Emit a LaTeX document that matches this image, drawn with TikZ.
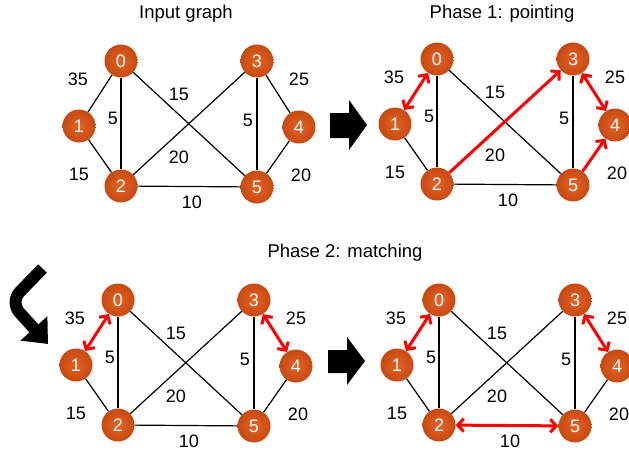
\documentclass[tikz,border=0pt]{standalone}
\usepackage{fontspec}
\setmainfont{Liberation Sans}
\usetikzlibrary{arrows.meta}
\definecolor{nodeIn}{RGB}{228,98,36}
\definecolor{nodeOut}{RGB}{198,74,18}
\definecolor{arrred}{RGB}{255,0,0}
\tikzset{
  vert/.style={circle, minimum size=33pt, inner sep=0pt, inner color=nodeIn, outer color=nodeOut, text=white, font=\fontsize{18}{18}\selectfont},
  wlab/.style={inner sep=0pt, font=\fontsize{18}{18}\selectfont},
  ttl/.style={inner sep=0pt, font=\fontsize{18.5}{19}\selectfont},
  edge/.style={draw=black, line width=1.2pt},
  redarr/.style={draw=arrred, line width=3pt, arrows={Straight Barb[length=6pt,width=13pt]-Straight Barb[length=6pt,width=13pt]}},
  redone/.style={draw=arrred, line width=3pt, arrows={-Straight Barb[length=6pt,width=13pt]}},
  bigarrow/.style={fill=black},
}
\newcommand\mygraph[3]{%
 \begin{scope}[shift={(#2,#3)}]
  \node[vert] (#1n0) at (0,0) {0};
  \node[vert] (#1n1) at (-42,65) {1};
  \node[vert] (#1n2) at (0,125) {2};
  \node[vert] (#1n3) at (136,0) {3};
  \node[vert] (#1n4) at (178,66) {4};
  \node[vert] (#1n5) at (136,126) {5};
  \node[wlab] (#1w01) at (-43,18) {35};
  \node[wlab] (#1w02) at (-8,57) {5};
  \node[wlab] (#1w05) at (58,33) {15};
  \node[wlab] (#1w23) at (58,96) {20};
  \node[wlab] (#1w35) at (127,59) {5};
  \node[wlab] (#1w34) at (178,18) {25};
  \node[wlab] (#1w12) at (-42,113) {15};
  \node[wlab] (#1w45) at (180,114) {20};
  \node[wlab] (#1w25) at (71,141) {10};
 \end{scope}}
\begin{document}
\begin{tikzpicture}[x=1pt,y=-1pt]
\useasboundingbox (0,0) rectangle (629,452);
% titles
\node[ttl] (t1) at (186,14) {Input graph};
\node[ttl] (t2) at (502,14) {Phase 1: pointing};
\node[ttl] (t3) at (345,253) {Phase 2: matching};
% panels
\mygraph{a}{121}{61}
\mygraph{b}{437}{59}
\mygraph{c}{118}{300}
\mygraph{d}{439}{300}
% panel 1 edges
\foreach \u/\v in {0/1,0/2,0/5,1/2,2/3,2/5,3/4,3/5,4/5}
  \draw[edge] (an\u) -- (an\v);
% panel 2 edges
\foreach \u/\v in {0/2,0/5,1/2,2/5,3/5}
  \draw[edge] (bn\u) -- (bn\v);
\draw[redarr] (bn0) -- (bn1);
\draw[redarr] (bn3) -- (bn4);
\draw[redone] (bn2) -- (bn3);
\draw[redone] (bn5) -- (bn4);
% panel 3 edges
\foreach \u/\v in {0/2,0/5,1/2,2/3,2/5,3/5,4/5}
  \draw[edge] (cn\u) -- (cn\v);
\draw[redarr] (cn0) -- (cn1);
\draw[redarr] (cn3) -- (cn4);
% panel 4 edges
\foreach \u/\v in {0/2,0/5,1/2,2/3,3/5,4/5}
  \draw[edge] (dn\u) -- (dn\v);
\draw[redarr] (dn0) -- (dn1);
\draw[redarr] (dn3) -- (dn4);
\draw[redarr] (dn2) -- (dn5);
% block arrows
\fill[bigarrow] (330,113) -- (349,113) -- (349,100) -- (367,125) -- (349,150) -- (349,138) -- (330,138) -- cycle;
\fill[bigarrow] (328,350) -- (347,350) -- (347,337) -- (365,361) -- (347,385) -- (347,373) -- (328,373) -- cycle;
% curved arrow
\draw[line width=12pt, rounded corners=14pt, -{Triangle[length=21pt,width=35pt]}] (42.5,268.5) -- (10,302) -- (48,344);
\end{tikzpicture}
\end{document}
